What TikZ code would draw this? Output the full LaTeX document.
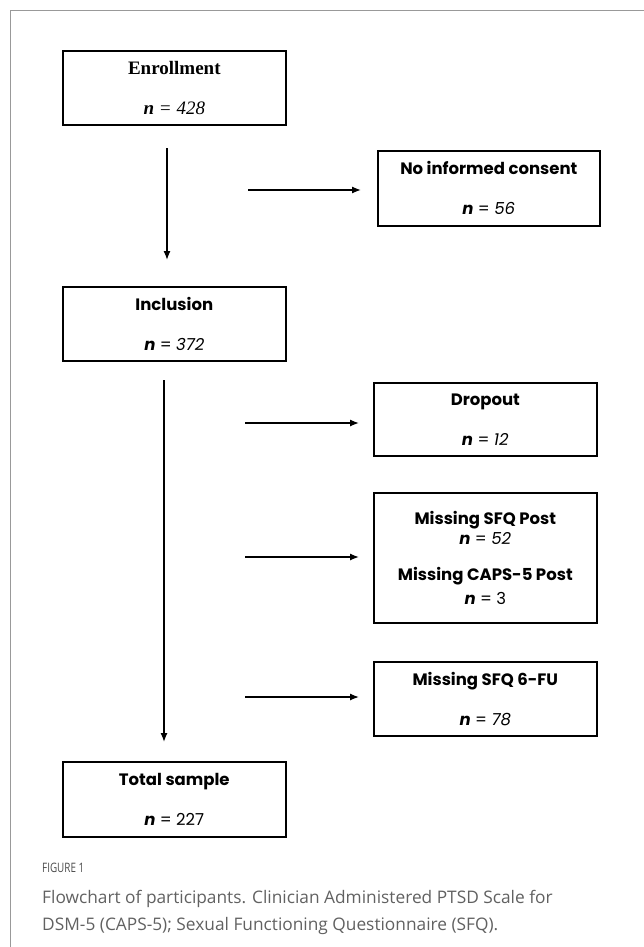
\documentclass[tikz,border=0pt]{standalone}
\usepackage{fontspec}
\usepackage{xcolor}
\usepackage{graphicx}
\setmainfont{Liberation Serif}
\newfontfamily\boxfont{Poppins}
\newfontfamily\capfont{Open Sans}
\usetikzlibrary{positioning}
\usetikzlibrary{arrows.meta}
\definecolor{framegray}{gray}{0.6}
\definecolor{capgray}{gray}{0.38}

\begin{document}
\begin{tikzpicture}[x=1pt,y=-1pt,
		flowbox/.style={draw,line width=1.6pt,anchor=north west,
			minimum width=223pt,minimum height=74pt,inner sep=0pt,
			align=center,font=\boxfont\fontsize{16.5}{20}\selectfont},
		flowarrow/.style={line width=1.3pt,-{Latex[length=9pt,width=7pt]}}]
		\def\gap{\\[20pt]}
		\useasboundingbox (0,0) rectangle (644,947);
		% frame of the figure
		\draw [framegray,line width=1pt] (644,11) -- (10,11) -- (10,947);
		% left column
		\node [flowbox,font=\fontsize{19}{21}\selectfont] (enroll) at (62,50)
			{\textbf{Enrollment}\\[19pt]\textbf{\textit{n}} \textit{= 428}};
		\node [flowbox] (incl) at (62,286)
			{\textbf{Inclusion}\gap\textbf{\textit{n}} = \textit{372}};
		\node [flowbox,minimum height=75pt] (total) at (62,761)
			{\textbf{Total sample}\gap\textbf{\textit{n}} = 227};
		% right column
		\node [flowbox,minimum width=222pt,minimum height=75pt] (noic) at (377,150)
			{\textbf{No informed consent}\gap\textbf{\textit{n}} = \textit{56}};
		\node [flowbox,minimum height=73pt] (drop) at (373,382)
			{\textbf{Dropout}\gap\textbf{\textit{n}} = \textit{12}};
		\node [flowbox,minimum height=130pt] (miss) at (373,492)
			{\textbf{Missing SFQ Post}\\[0pt]\textbf{\textit{n}} = \textit{52}\\[16pt]
			 \textbf{Missing CAPS-5 Post}\\[4pt]\textbf{\textit{n}} = 3};
		\node [flowbox] (fu) at (373,661)
			{\textbf{Missing SFQ 6-FU}\gap\textbf{\textit{n}} = \textit{78}};
		% arrow ends
		\coordinate (v1s) at (167,148);
		\coordinate (v1e) at (167,260);
		\coordinate (v2s) at (164,380);
		\coordinate (v2e) at (164,742);
		\coordinate (h1s) at (248,190);
		\coordinate (h2s) at (245,423);
		\coordinate (h3s) at (245,557);
		\coordinate (h4s) at (245,697);
		\draw [flowarrow] (v1s) -- (v1e);
		\draw [flowarrow] (v2s) -- (v2e);
		\draw [flowarrow] (h1s) -- ([xshift=-16pt]noic.west |- h1s);
		\draw [flowarrow] (h2s) -- ([xshift=-14pt]drop.west |- h2s);
		\draw [flowarrow] (h3s) -- ([xshift=-14pt]miss.west |- h3s);
		\draw [flowarrow] (h4s) -- ([xshift=-14pt]fu.west |- h4s);
		% caption
		\node [anchor=west,inner sep=0pt,black!70,font=\capfont\fontsize{13}{15}\selectfont] (fig) at (42,868)
			{\scalebox{0.76}[1]{FIGURE 1}};
		\node [anchor=north west,capgray,align=left,inner sep=0pt,
			font=\capfont\fontsize{17.3}{27}\selectfont] (cap) at (42,890)
			{Flowchart of participants. Clinician Administered PTSD Scale for\\
			 DSM-5 (CAPS-5); Sexual Functioning Questionnaire (SFQ).};
	\end{tikzpicture}
\end{document}
